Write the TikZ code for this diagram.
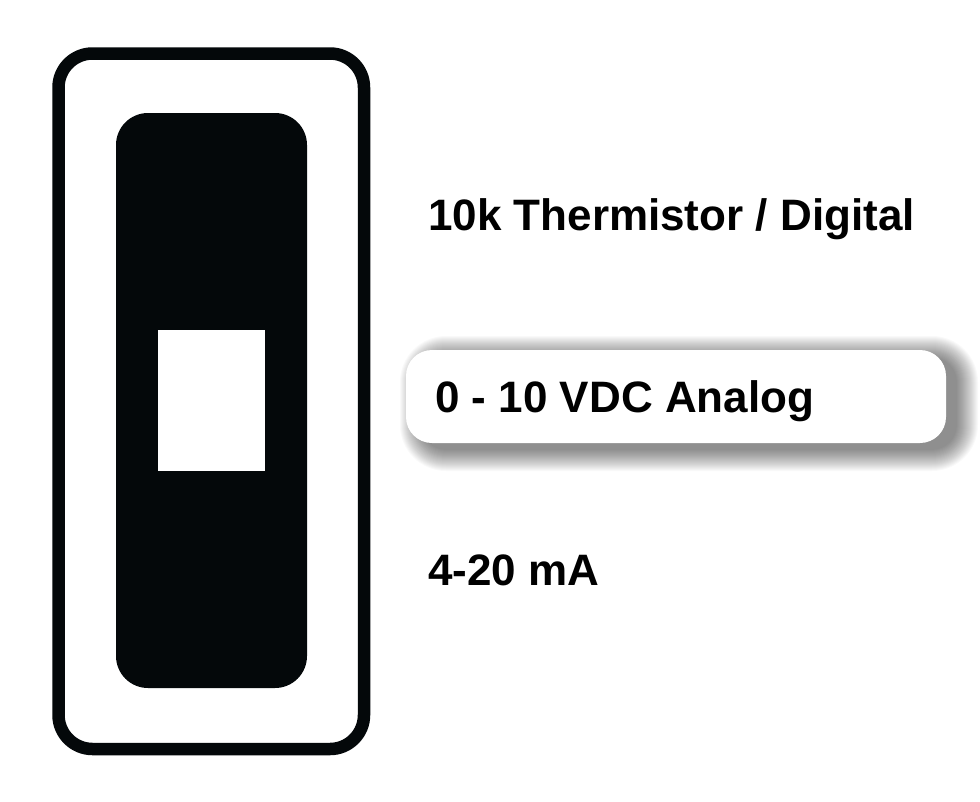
\documentclass[tikz,border=0pt]{standalone}
\usepackage{fontspec}
\setmainfont{Liberation Sans}
\definecolor{ink}{RGB}{4,8,10}
\tikzset{
  lbl/.style={anchor=base west, inner sep=0pt, font=\fontsize{44}{50}\selectfont\bfseries, text=black},
}
\begin{document}
\begin{tikzpicture}[x=1pt,y=-1pt]
\useasboundingbox (0,0) rectangle (980,801);
\fill[white] (0,0) rectangle (980,801);
% outer frame
\draw[ink, line width=12.5pt, rounded corners=34pt] (58.5,53.5) rectangle (364,749);
% inner black slot
\fill[ink, rounded corners=32pt] (116,113) rectangle (307,688);
% white square
\fill[white] (158,330) rectangle (265,471);
% pill shadow
\foreach \i in {1,...,22}{
  \fill[black, opacity=0.022, rounded corners={(24+\i)*1pt}]
    (406+16-\i,350+8-\i) rectangle (946+10+\i,443+6+\i);
}
\node[draw=none, fill=white, rounded corners=26pt, minimum width=540pt, minimum height=93pt, inner sep=0pt] (pill) at (676,396.5) {};
\node[lbl] (t1) at (428,230) {10k Thermistor / Digital};
\node[lbl] (t2) at (435,412) {0 - 10 VDC Analog};
\node[lbl] (t3) at (428,585) {4-20 mA};
\end{tikzpicture}
\end{document}
